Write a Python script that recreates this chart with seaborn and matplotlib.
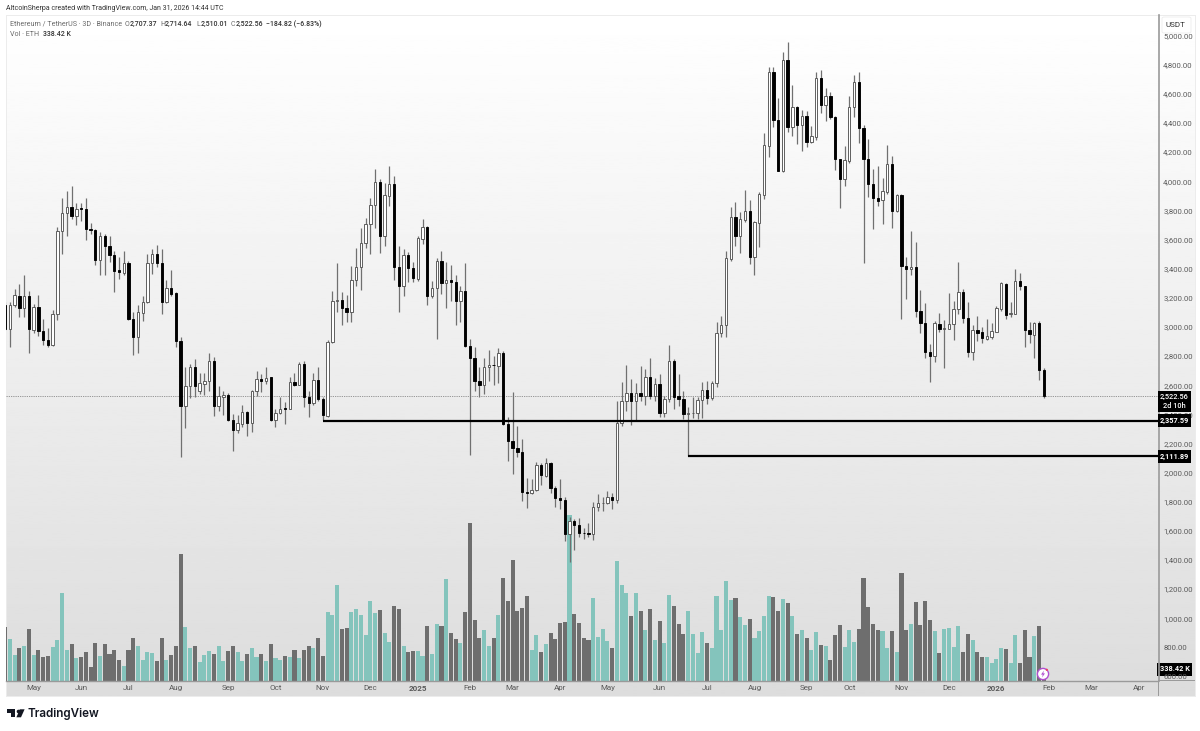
#!/usr/bin/env python3

import matplotlib
matplotlib.use("Agg")
import matplotlib.pyplot as plt
from matplotlib.patches import Circle, Polygon, Rectangle, FancyBboxPatch
import numpy as np
import pandas as pd
import seaborn as sns

# 3D ETH/USDT candles
opens = [
    3153,2986,3153,3215,3130,3213,2979,3135,2972,2911,
    2874,3089,3657,3780,3826,3762,3814,3808,3673,3668,
    3462,3627,3556,3492,3391,3373,3439,3055,2929,3096,
    3169,3439,3501,3439,3169,3268,3231,2901,2460,2595,
    2723,2563,2609,2627,2764,2455,2517,2535,2364,2293,
    2334,2416,2339,2558,2643,2627,2654,2362,2412,2444,
    2437,2625,2602,2746,2517,2478,2638,2506,2391,2895,
    3179,3188,3131,3105,3323,3410,3577,3707,3838,3993,
    3627,3902,3982,3414,3279,3494,3403,3330,3604,3689,
    3215,3266,3451,3302,3323,3307,3176,3245,2867,2785,
    2631,2599,2723,2741,2734,2819,2334,2215,2169,2140,
    1867,1860,1881,2055,1977,2066,1897,1824,1812,1577,
    1668,1643,1588,1584,1577,1767,1789,1792,1833,1810,
    2343,2490,2547,2494,2547,2528,2654,2524,2606,2412,
    2506,2769,2526,2506,2405,2407,2412,2499,2567,2510,
    2613,2956,3016,3467,3757,3627,3737,3794,3483,3716,
    3908,4245,4748,4421,4068,4830,4370,4512,4386,4448,
    4268,4306,4709,4521,4586,4444,4153,4016,4142,4508,
    4682,4366,4151,3982,3888,3869,3927,4119,3798,3906,
    3421,3396,3414,3110,3030,2831,2797,3023,2989,2989,
    3019,3122,3238,3060,2831,2977,2964,2920,2934,2966,
    3124,3298,3092,3092,3318,3282,2980,2945,3028,2707.37,
]
highs = [
    3169,3169,3261,3295,3354,3249,3158,3217,3055,2993,
    3119,3684,3888,3936,3970,3849,3849,3885,3714,3673,
    3650,3638,3622,3519,3483,3519,3451,3105,3153,3213,
    3501,3538,3563,3538,3322,3393,3238,2933,2723,2746,
    2780,2686,2686,2819,2792,2595,2558,2549,2403,2398,
    2464,2426,2567,2700,2677,2723,2659,2437,2517,2483,
    2654,2682,2760,2764,2558,2682,2723,2517,2911,3245,
    3442,3238,3222,3421,3542,3682,3746,3886,4085,4016,
    3986,4107,4039,3554,3536,3513,3449,3627,3741,3696,
    3318,3471,3524,3449,3428,3359,3284,3437,2918,2861,
    2723,2787,2844,2803,2856,2833,2384,2551,2320,2231,
    1961,1956,2071,2066,2101,2071,1911,1956,1835,1693,
    1682,1689,1620,1654,1796,1853,1835,1876,1858,2490,
    2622,2741,2645,2613,2734,2712,2787,2650,2677,2528,
    2876,2780,2677,2563,2448,2517,2517,2620,2631,2631,
    3037,3078,3524,3821,3856,3787,3940,3874,3730,3929,
    4329,4782,4787,4572,4885,4956,4663,4519,4492,4485,
    4382,4748,4766,4640,4615,4451,4155,4240,4588,4730,
    4750,4389,4290,4084,4107,4023,4251,4171,3913,3913,
    3483,3655,3586,3250,3167,2884,3044,3096,3048,3234,
    3181,3449,3263,3174,3016,3078,2998,3055,3026,3147,
    3311,3300,3170,3398,3369,3284,3032,3032,3044,2714.64,
]
lows = [
    2979,2865,3135,3071,3066,2819,2961,2940,2879,2860,
    2867,3048,3501,3627,3741,3702,3725,3597,3638,3428,
    3359,3354,3444,3238,3329,3354,3050,2810,2819,3043,
    3162,3364,3409,3089,3167,3215,2860,2110,2307,2513,
    2517,2540,2535,2563,2391,2421,2398,2357,2151,2275,
    2311,2254,2277,2529,2551,2609,2352,2311,2403,2334,
    2435,2597,2599,2453,2384,2467,2494,2358,2380,2888,
    3105,3016,3032,3032,3284,3250,3542,3501,3680,3506,
    3558,3828,3325,3101,3215,3307,3307,3314,3570,3153,
    3197,2918,3227,3128,3181,3016,3037,2865,2123,2558,
    2522,2540,2627,2604,2613,2329,2078,1991,2105,1808,
    1755,1853,1872,1918,1972,1858,1767,1751,1533,1385,
    1471,1556,1542,1556,1538,1735,1735,1785,1751,1789,
    2320,2421,2327,2357,2494,2467,2506,2494,2384,2380,
    2483,2437,2460,2368,2112,2375,2368,2373,2471,2501,
    2591,2929,2929,3455,3558,3506,3718,3432,3357,3547,
    3879,4165,4370,4068,4062,4336,4313,4256,4210,4238,
    4265,4284,4467,4412,4430,4078,3817,3966,4123,4439,
    4263,3437,3890,3673,3828,3707,3913,3679,3792,3055,
    3193,3357,3071,2959,2788,2625,2762,2964,2717,2987,
    2911,3090,3026,2792,2774,2902,2891,2911,2918,2964,
    3112,3051,3067,3090,3250,2865,2891,2785,2637,2510.01,
]
closes = [
    2986,3153,3219,3130,3215,2984,3135,2970,2911,2874,
    3089,3657,3780,3826,3764,3812,3810,3673,3666,3462,
    3624,3554,3492,3386,3377,3439,3055,2929,3100,3174,
    3439,3501,3439,3174,3268,3226,2901,2460,2597,2723,
    2595,2613,2629,2764,2455,2524,2535,2364,2293,2339,
    2416,2339,2558,2645,2631,2652,2362,2412,2439,2439,
    2625,2602,2746,2517,2478,2638,2506,2398,2895,3181,
    3183,3128,3105,3323,3412,3577,3707,3838,3993,3627,
    3906,3982,3414,3279,3497,3403,3334,3609,3689,3215,
    3266,3451,3302,3323,3307,3181,3245,2867,2785,2627,
    2599,2723,2741,2737,2819,2334,2215,2167,2140,1865,
    1863,1883,2055,1982,2066,1895,1824,1815,1577,1668,
    1643,1584,1584,1577,1767,1789,1792,1833,1812,2343,
    2490,2547,2494,2547,2528,2654,2528,2609,2412,2506,
    2769,2522,2503,2403,2410,2412,2499,2567,2512,2618,
    2956,3016,3476,3757,3627,3739,3796,3483,3721,3913,
    4247,4750,4421,4071,4830,4370,4512,4386,4448,4268,
    4311,4709,4521,4586,4439,4151,4016,4146,4512,4682,
    4364,4151,3982,3888,3867,3931,4119,3798,3906,3421,
    3396,3414,3108,3026,2831,2797,3028,2987,2993,3021,
    3124,3238,3060,2831,2980,2961,2923,2939,2971,3129,
    3300,3085,3096,3318,3279,2977,2948,3028,2707,2522.56,
]
# volume in thousands of ETH
volumes = [
    1660,1261,769,1005,1066,1579,779,943,718,759,
    1015,1240,2686,943,1128,697,718,882,410,1148,
    738,1128,800,943,636,461,923,1312,1066,615,
    871,851,595,1292,615,769,1066,3875,1640,984,
    1046,554,769,892,800,1046,595,902,1076,861,
    595,800,984,718,800,595,1117,677,615,738,
    718,923,677,943,1066,984,1312,748,2091,1999,
    2942,1579,1620,2101,2183,2019,1384,2429,2060,2163,
    1456,1199,2286,2194,1066,871,902,902,759,1671,
    800,1743,1671,3116,1456,1271,1148,2112,4838,1845,
    1312,1558,1066,1312,2009,3137,2429,3700,2122,2235,
    2583,943,1394,871,1117,1456,1271,1753,1804,5094,
    2040,1763,1302,1230,2532,1333,1579,1210,994,3659,
    2932,2686,1968,2686,2122,1558,2183,1251,1814,1148,
    2624,2286,1732,1435,2122,1435,851,1476,1148,1005,
    2604,1558,3044,2460,2532,1958,1712,1886,1292,1527,
    1968,2583,2563,2142,2501,2388,1989,1415,1558,1312,
    953,1486,1097,1076,625,1404,1691,1025,1538,1179,
    1579,3147,2245,1743,1538,1517,994,1527,861,3311,
    1558,1743,2419,1702,2450,1866,1517,851,1568,1599,
    1025,1681,871,1415,1230,861,718,728,533,656,
    994,964,533,1384,543,1558,718,1363,1681,338.42,
]

month_bars = [6,16,26,36,47,57,67,77,87,98,107,117,127,138,148,158,169,178,189,199,209,220,229,239]
month_labels = ["May","Jun","Jul","Aug","Sep","Oct","Nov","Dec","2025","Feb","Mar","Apr",
                "May","Jun","Jul","Aug","Sep","Oct","Nov","Dec","2026","Feb","Mar","Apr"]
price_ticks = list(range(600, 5200, 200))
last_close = 2522.56
ray_starts = [67, 144]
ray_levels = [2357.59, 2111.89]

W, H = 1200, 731
TEAL = "#84c4bc"
GREY = "#6e6e6e"
TXT = "#5a5a5a"


def fx(x):
    return x / W


def fy(y):
    return 1 - y / H


def rect(x0, y0, x1, y1):
    return [fx(x0), fy(y1), fx(x1) - fx(x0), fy(y0) - fy(y1)]


sns.set_theme(style="white")
plt.rcParams["font.family"] = ["Roboto", "DejaVu Sans"]

fig = plt.figure(figsize=(W / 100, H / 100), dpi=100, facecolor="white")

# grey gradient behind the whole panel, axis strips included
bg = fig.add_axes(rect(6, 15, 1195, 696))
grad = np.linspace(1.0, 0.865, 256).reshape(-1, 1)
bg.imshow(grad, aspect="auto", cmap="gray", vmin=0, vmax=1)
bg.set_xticks([])
bg.set_yticks([])
for s in bg.spines.values():
    s.set_color("#ececec")
    s.set_linewidth(0.7)

df = pd.DataFrame({"bar": np.arange(len(opens)), "open": opens, "high": highs,
                   "low": lows, "close": closes, "volume": volumes})
df["up"] = df["close"] >= df["open"]

plot_rect = rect(6, 15, 1158.5, 680.5)
x_range = (0.17, 243.2)

# volume pane, base sits on the time axis
vol_ax = fig.add_axes(plot_rect)
vol_ax.patch.set_alpha(0)
sns.barplot(data=df, x="bar", y="volume", hue="up", palette={True: TEAL, False: GREY},
            native_scale=True, dodge=False, legend=False, width=0.86, saturation=1,
            errorbar=None, linewidth=0, ax=vol_ax)
vol_ax.set_xlim(x_range)
vol_ax.set_ylim(0, 20460)
vol_ax.axis("off")

ax = fig.add_axes(plot_rect)
ax.patch.set_alpha(0)
ax.set_xlim(x_range)
ax.set_ylim(573, 5141)

ax.vlines(df["bar"], df["low"], df["high"], color="#707070", linewidth=0.9, zorder=3)
up = df[df["up"]]
down = df[~df["up"]]
ax.bar(up["bar"], up["close"] - up["open"], bottom=up["open"], width=0.5,
       facecolor="white", edgecolor="#555555", linewidth=0.65, zorder=4)
ax.bar(down["bar"], down["open"] - down["close"], bottom=down["close"], width=0.5,
       facecolor="black", edgecolor="black", linewidth=0.65, zorder=4)

# last price and the two rays
ax.axhline(last_close, color="#8a8a8a", linewidth=0.6, linestyle=(0, (1.5, 1.2)), zorder=2)
for start, level in zip(ray_starts, ray_levels):
    ax.plot([start, x_range[1]], [level, level], color="black", linewidth=1.6,
            solid_capstyle="butt", zorder=5)

ax.yaxis.tick_right()
ax.set_yticks(price_ticks)
ax.set_yticklabels([f"{p:,.2f}" for p in price_ticks])
ax.set_xticks(month_bars)
ax.set_xticklabels(month_labels)
ax.tick_params(axis="y", length=0, pad=3.4, labelsize=5.6, labelcolor=TXT)
ax.tick_params(axis="x", length=0, pad=3.5, labelsize=5.8, labelcolor=TXT)
for label, text in zip(ax.get_xticklabels(), month_labels):
    if text in ("2025", "2026"):
        label.set_fontweight("bold")
for name in ("top", "left"):
    ax.spines[name].set_visible(False)
ax.spines["right"].set_color("#9a9a9a")
ax.spines["right"].set_linewidth(1.2)
ax.spines["bottom"].set_color("#9a9a9a")
ax.spines["bottom"].set_linewidth(1.0)

# price scale runs on through the time axis strip
fig.add_artist(Rectangle((fx(1158), fy(696)), fx(1.2), fy(680) - fy(696),
                         transform=fig.transFigure, facecolor="#9a9a9a", edgecolor="none"))
fig.add_artist(Rectangle((fx(1158), fy(680.8)), fx(37), fy(680) - fy(680.8),
                         transform=fig.transFigure, facecolor="#9a9a9a", edgecolor="none"))

# black price flags on the scale
label_x = 1 + 16 / 1152.5
tag = dict(facecolor="black", edgecolor="none", boxstyle="square,pad=0.3")
ytrans = ax.get_yaxis_transform()
ax.text(label_x, last_close + 25, f"{last_close:,.2f}\n2d 10h", transform=ytrans, ha="center",
        va="top", color="white", fontsize=5.3, fontweight="medium", linespacing=1.15,
        clip_on=False, zorder=8, bbox=tag)
for level in ray_levels:
    ax.text(label_x, level, f"{level:,.2f}", transform=ytrans, ha="center", va="center",
            color="white", fontsize=5.3, fontweight="bold", clip_on=False, zorder=8, bbox=tag)
vol_ax.text(label_x, volumes[-1], "338.42 K", transform=vol_ax.get_yaxis_transform(),
            ha="center", va="center", color="white", fontsize=5.3, fontweight="bold",
            clip_on=False, zorder=8, bbox=tag)

# USDT button over the top tick
fig.add_artist(FancyBboxPatch((fx(1162), fy(33)), fx(29), fy(17) - fy(33),
                              boxstyle="round,pad=0,rounding_size=0.002",
                              transform=fig.transFigure, facecolor="white",
                              edgecolor="#ececec", linewidth=0.6, zorder=9))
fig.text(fx(1166), fy(25), "USDT", fontsize=5.8, color="#333333", va="center", zorder=10)

# header and legend
fig.text(fx(6), fy(8.5), "AltcoinSherpa created with TradingView.com, Jan 31, 2026 14:44 UTC",
         fontsize=5.0, color="#333333", va="center")
fig.text(fx(10), fy(24), "Ethereum / TetherUS · 3D · Binance", fontsize=5.15, color="#6a6a6a", va="center")
legend_bits = [(125, "O", "2,707.37"), (160.5, "H", "2,714.64"), (196.5, "L", "2,510.01"), (231, "C", "2,522.56")]
for x, head, val in legend_bits:
    fig.text(fx(x), fy(24), head, fontsize=5.0, color="#6a6a6a", va="center")
    fig.text(fx(x + 4.6), fy(24), val, fontsize=5.0, fontweight="medium", color="#333333", va="center")
fig.text(fx(266), fy(24), "−184.82 (−6.83%)", fontsize=5.0, fontweight="medium", color="#333333", va="center")
fig.text(fx(10), fy(34), "Vol · ETH", fontsize=5.15, color="#6a6a6a", va="center")
fig.text(fx(43), fy(34), "338.42 K", fontsize=5.0, fontweight="medium", color="#333333", va="center")

# badge over the last bar
badge = fig.add_axes(rect(1036, 667, 1050, 681))
badge.set_xlim(0, 14)
badge.set_ylim(14, 0)
badge.axis("off")
badge.add_patch(Circle((7, 7), 5.6, facecolor="white", edgecolor="#b14fd0", linewidth=1.0))
badge.add_patch(Polygon([(8, 3.5), (5, 7.6), (6.8, 7.6), (6, 10.5), (9, 6.4), (7.2, 6.4)],
                        facecolor="#b14fd0", edgecolor="none"))
badge.add_patch(Circle((10.8, 2.8), 1.1, facecolor="#f03a5a", edgecolor="none"))

# TradingView mark and name
for pts in ([(7, 709.3), (15.2, 709.3), (15.2, 717.3), (11.3, 717.3), (11.3, 713), (7, 713)],
            [(19.8, 709.3), (24.6, 709.3), (21, 717.3), (16.4, 717.3)]):
    fig.add_artist(Polygon([(fx(a), fy(b)) for a, b in pts], transform=fig.transFigure,
                           facecolor="#131722", edgecolor="none"))
fig.add_artist(plt.Line2D([fx(17.7)], [fy(711.2)], marker="o", markersize=2.6, color="#131722",
                          markeredgewidth=0, transform=fig.transFigure))
fig.text(fx(28), fy(713.5), "TradingView", fontsize=8.4, fontweight="semibold",
         family="Inter", color="#131722", va="center")

fig.savefig("out.png", dpi=100, facecolor="white")
